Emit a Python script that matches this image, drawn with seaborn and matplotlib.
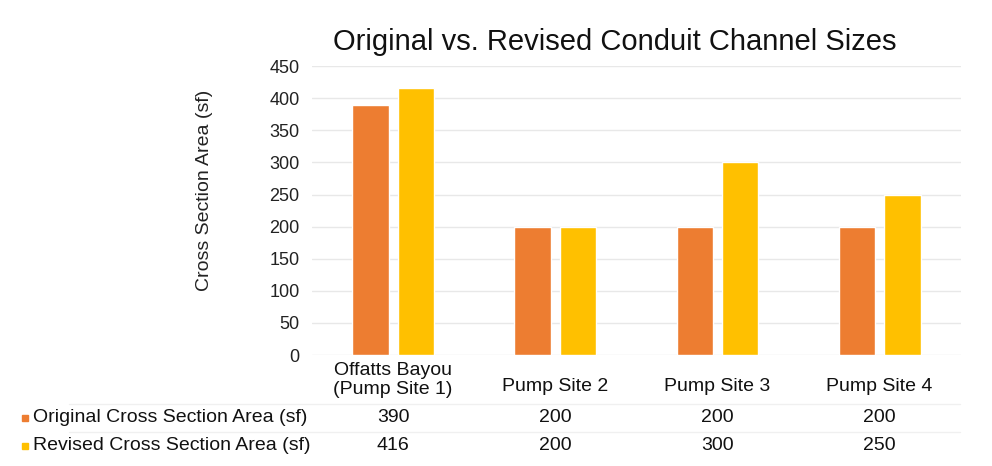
import matplotlib
matplotlib.use("Agg")
import matplotlib.pyplot as plt
import seaborn as sns
import pandas as pd

categories = ["Offatts Bayou\n(Pump Site 1)", "Pump Site 2", "Pump Site 3", "Pump Site 4"]
series_names = ["Original Cross Section Area (sf)", "Revised Cross Section Area (sf)"]
original = [390, 200, 200, 200]
revised = [416, 200, 300, 250]
y_ticks = [0, 50, 100, 150, 200, 250, 300, 350, 400, 450]
colors = ["#ED7D31", "#FFC000"]

df = pd.DataFrame({
    "category": categories * 2,
    "series": [series_names[0]] * 4 + [series_names[1]] * 4,
    "value": original + revised,
})

sns.set_theme(style="white")
plt.rcParams["font.family"] = ["Liberation Sans", "DejaVu Sans"]

fig = plt.figure(figsize=(9.92, 4.66), dpi=100)
AX_B, AX_H = 0.238, 0.62
ax = fig.add_axes([0.3145, AX_B, 0.654, AX_H])

sns.barplot(data=df, x="category", y="value", hue="series", palette=colors,
            width=0.56, gap=0.2, ax=ax, legend=False, saturation=1)

ax.set_ylim(0, 450)
ax.set_yticks(y_ticks)
ax.set_yticklabels([str(t) for t in y_ticks], fontsize=13, color="#222222")
ax.set_xlim(-0.5, 3.5)
ax.set_xticks(range(4))
ax.set_xticklabels(categories, fontsize=14, color="#111111", linespacing=1.15)
ax.tick_params(axis="x", length=0, pad=5)
ax.tick_params(axis="y", length=0, pad=9)
ax.yaxis.grid(True, color="#e8e8e8", linewidth=1)
ax.set_axisbelow(True)
for s in ax.spines.values():
    s.set_visible(False)
ax.set_xlabel("")
ax.set_ylabel("Cross Section Area (sf)", fontsize=14, color="#222222")
ax.yaxis.set_label_coords(-0.153, 0.571)

# single-line labels sit lower, centred on the two-line label
for lbl in ax.get_xticklabels():
    if "\n" not in lbl.get_text():
        lbl.set_y(-0.055)

fig.text(0.62, 0.91, "Original vs. Revised Conduit Channel Sizes", fontsize=21,
         ha="center", va="center", color="#111111")

# data table
row_y = [1 - 418 / 466, 1 - 446 / 466]
trans = ax.get_xaxis_transform()
for r, (name, vals, col) in enumerate(zip(series_names, [original, revised], colors)):
    yfig = row_y[r]
    fig.text(0.033, yfig, name, fontsize=14, ha="left", va="center", color="#111111")
    fig.patches.append(plt.Rectangle((0.022, yfig - 0.007), 0.006, 0.013,
                                     transform=fig.transFigure, color=col, figure=fig))
    for i, v in enumerate(vals):
        y_ax = (yfig - AX_B) / AX_H
        ax.text(i, y_ax, str(v), transform=trans, fontsize=14, ha="center",
                va="center", color="#111111", clip_on=False)

for yl in [1 - 404 / 466, 1 - 432 / 466]:
    fig.add_artist(plt.Line2D([0.07, 0.968], [yl, yl], transform=fig.transFigure,
                              color="#f0f0f0", linewidth=1))

fig.savefig("out.png", dpi=100, facecolor="white")
